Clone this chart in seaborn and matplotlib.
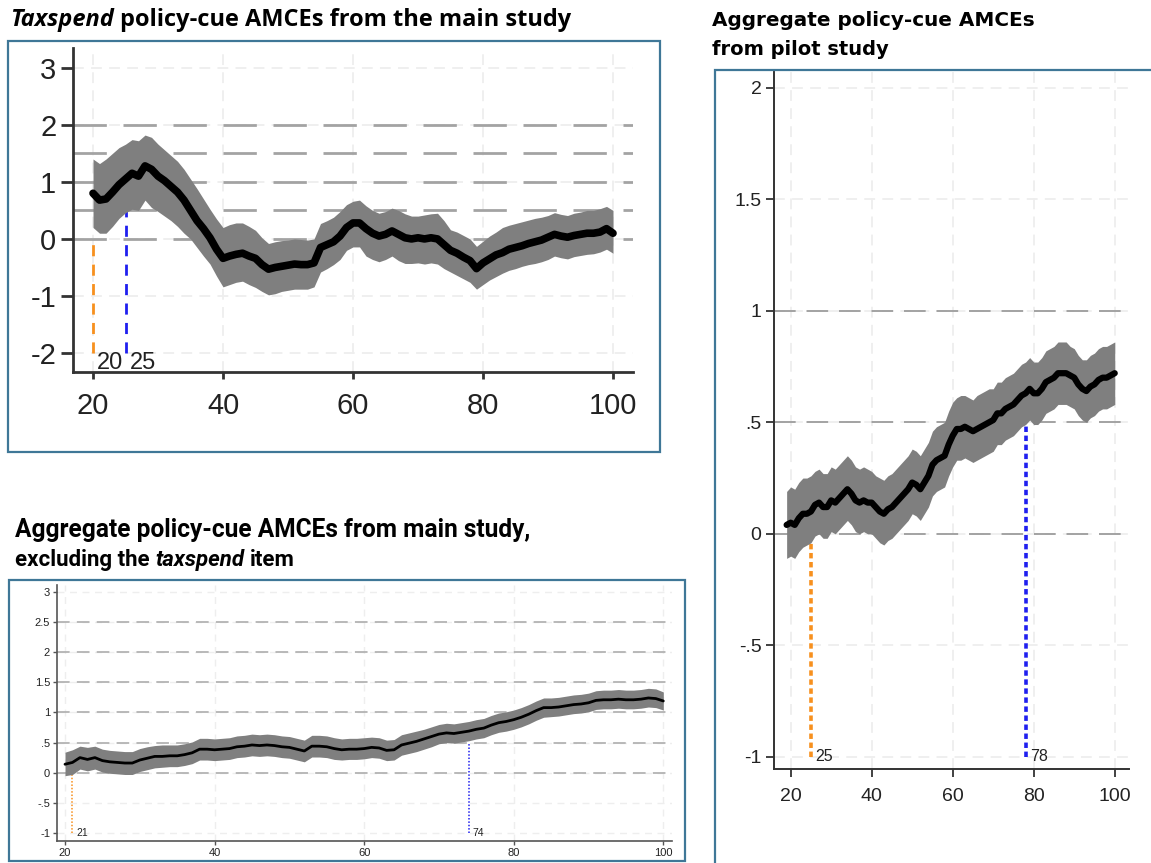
import matplotlib
matplotlib.use("Agg")
import numpy as np
import pandas as pd
import matplotlib.pyplot as plt
import seaborn as sns
from matplotlib.patches import Rectangle
from matplotlib import font_manager

# ---------------- data ----------------
# Panel A: Taxspend policy-cue AMCEs, main study (age 20..100)
A_age = list(range(20, 101))
A_amce = [0.80, 0.68, 0.70, 0.82, 0.95, 1.05, 1.15, 1.10, 1.28, 1.22,
          1.10, 1.02, 0.92, 0.82, 0.68, 0.50, 0.32, 0.18, 0.02, -0.18,
          -0.34, -0.30, -0.27, -0.25, -0.30, -0.34, -0.45, -0.53, -0.50, -0.48,
          -0.46, -0.44, -0.45, -0.45, -0.42, -0.15, -0.10, -0.05, 0.05, 0.20,
          0.28, 0.28, 0.18, 0.10, 0.05, 0.08, 0.14, 0.08, 0.02, 0.00,
          0.02, 0.00, 0.02, 0.00, -0.10, -0.20, -0.25, -0.32, -0.38, -0.52,
          -0.42, -0.35, -0.28, -0.24, -0.18, -0.15, -0.12, -0.08, -0.05, -0.02,
          0.03, 0.08, 0.05, 0.03, 0.06, 0.08, 0.10, 0.10, 0.12, 0.18,
          0.10]
A_hi = [1.40, 1.32, 1.40, 1.50, 1.60, 1.66, 1.74, 1.72, 1.82, 1.78,
        1.66, 1.56, 1.46, 1.36, 1.22, 1.05, 0.88, 0.70, 0.52, 0.35,
        0.20, 0.25, 0.28, 0.28, 0.22, 0.15, 0.02, -0.08, -0.05, -0.03,
        -0.02, 0.00, -0.01, -0.02, 0.00, 0.27, 0.32, 0.38, 0.48, 0.60,
        0.66, 0.68, 0.58, 0.50, 0.45, 0.48, 0.54, 0.50, 0.44, 0.40,
        0.40, 0.42, 0.44, 0.45, 0.32, 0.16, 0.12, 0.06, 0.00, -0.13,
        -0.04, 0.05, 0.12, 0.20, 0.24, 0.27, 0.30, 0.33, 0.36, 0.38,
        0.41, 0.46, 0.43, 0.41, 0.45, 0.47, 0.50, 0.50, 0.53, 0.57,
        0.50]
A_lo = [0.20, 0.10, 0.10, 0.22, 0.36, 0.46, 0.52, 0.50, 0.68, 0.55,
        0.48, 0.40, 0.32, 0.22, 0.10, 0.00, -0.15, -0.30, -0.44, -0.65,
        -0.84, -0.80, -0.76, -0.74, -0.80, -0.85, -0.92, -0.98, -0.96, -0.92,
        -0.90, -0.88, -0.88, -0.88, -0.84, -0.58, -0.52, -0.45, -0.36, -0.20,
        -0.14, -0.14, -0.30, -0.36, -0.40, -0.36, -0.30, -0.38, -0.43, -0.43,
        -0.42, -0.44, -0.42, -0.44, -0.52, -0.58, -0.64, -0.70, -0.76, -0.88,
        -0.80, -0.72, -0.66, -0.60, -0.55, -0.52, -0.48, -0.45, -0.43, -0.40,
        -0.36, -0.30, -0.33, -0.35, -0.31, -0.29, -0.27, -0.26, -0.23, -0.18,
        -0.25]
A_cut_age = [20, 25]
A_cut_top = [0.0, 0.5]
A_cut_label = ["20", "25"]
A_xticks = [20, 40, 60, 80, 100]
A_yticks = [3, 2, 1, 0, -1, -2]
A_yticklabels = ["3", "2", "1", "0", "-1", "-2"]
A_ref_y = [2, 1.5, 1, 0.5, 0]

# Panel B: aggregate AMCEs, main study excluding taxspend (age 20..100)
B_age = list(range(20, 101))
B_amce = [0.14, 0.17, 0.25, 0.22, 0.25, 0.20, 0.18, 0.17, 0.16, 0.16,
          0.21, 0.24, 0.27, 0.27, 0.28, 0.28, 0.30, 0.33, 0.39, 0.39,
          0.38, 0.39, 0.40, 0.43, 0.44, 0.46, 0.45, 0.46, 0.45, 0.43,
          0.42, 0.39, 0.36, 0.44, 0.44, 0.43, 0.40, 0.38, 0.39, 0.39,
          0.40, 0.42, 0.41, 0.37, 0.38, 0.46, 0.49, 0.52, 0.56, 0.60,
          0.64, 0.66, 0.65, 0.67, 0.69, 0.72, 0.74, 0.79, 0.83, 0.85,
          0.88, 0.92, 0.97, 1.03, 1.08, 1.08, 1.09, 1.11, 1.13, 1.14,
          1.16, 1.20, 1.21, 1.21, 1.22, 1.21, 1.21, 1.22, 1.24, 1.23,
          1.19]
B_hi = [0.34, 0.38, 0.44, 0.42, 0.44, 0.39, 0.37, 0.36, 0.35, 0.35,
        0.40, 0.43, 0.45, 0.46, 0.46, 0.46, 0.48, 0.51, 0.57, 0.57,
        0.56, 0.57, 0.58, 0.61, 0.62, 0.64, 0.63, 0.64, 0.63, 0.61,
        0.60, 0.57, 0.54, 0.62, 0.62, 0.61, 0.58, 0.56, 0.57, 0.57,
        0.58, 0.59, 0.58, 0.54, 0.55, 0.63, 0.66, 0.69, 0.72, 0.76,
        0.80, 0.82, 0.81, 0.83, 0.85, 0.88, 0.90, 0.95, 0.99, 1.01,
        1.04, 1.08, 1.13, 1.19, 1.24, 1.24, 1.25, 1.27, 1.29, 1.30,
        1.32, 1.36, 1.37, 1.37, 1.38, 1.37, 1.37, 1.38, 1.40, 1.39,
        1.34]
B_lo = [-0.05, -0.03, 0.06, 0.03, 0.06, 0.01, -0.01, -0.02, -0.03, -0.03,
        0.02, 0.05, 0.08, 0.09, 0.10, 0.10, 0.12, 0.15, 0.21, 0.21,
        0.20, 0.21, 0.22, 0.25, 0.26, 0.28, 0.27, 0.28, 0.27, 0.25,
        0.24, 0.21, 0.18, 0.26, 0.26, 0.25, 0.22, 0.21, 0.22, 0.22,
        0.23, 0.25, 0.24, 0.20, 0.21, 0.29, 0.32, 0.35, 0.39, 0.43,
        0.48, 0.50, 0.49, 0.51, 0.53, 0.56, 0.58, 0.63, 0.67, 0.69,
        0.72, 0.76, 0.81, 0.87, 0.92, 0.93, 0.94, 0.96, 0.98, 0.99,
        1.01, 1.05, 1.06, 1.06, 1.07, 1.06, 1.06, 1.07, 1.09, 1.08,
        1.04]
B_cut_age = [21, 74]
B_cut_top = [0.0, 0.5]
B_cut_label = ["21", "74"]
B_xticks = [20, 40, 60, 80, 100]
B_yticks = [3, 2.5, 2, 1.5, 1, 0.5, 0, -0.5, -1]
B_yticklabels = ["3", "2.5", "2", "1.5", "1", ".5", "0", "-.5", "-1"]
B_ref_y = [2.5, 2, 1.5, 1, 0.5, 0]

# Panel C: aggregate AMCEs, pilot study (age 19..100)
C_age = list(range(19, 101))
C_amce = [0.04, 0.05, 0.04, 0.07, 0.09, 0.09, 0.10, 0.13, 0.14, 0.12,
          0.12, 0.15, 0.14, 0.16, 0.18, 0.20, 0.18, 0.15, 0.14, 0.15,
          0.14, 0.14, 0.12, 0.10, 0.09, 0.11, 0.12, 0.14, 0.16, 0.18,
          0.20, 0.23, 0.22, 0.20, 0.23, 0.26, 0.31, 0.33, 0.34, 0.35,
          0.40, 0.44, 0.47, 0.47, 0.48, 0.47, 0.46, 0.47, 0.48, 0.49,
          0.50, 0.51, 0.54, 0.54, 0.56, 0.57, 0.58, 0.60, 0.62, 0.63,
          0.65, 0.63, 0.63, 0.65, 0.68, 0.69, 0.70, 0.72, 0.72, 0.72,
          0.71, 0.70, 0.67, 0.65, 0.64, 0.66, 0.67, 0.69, 0.70, 0.70,
          0.71, 0.72]
C_hi = [0.19, 0.21, 0.20, 0.23, 0.25, 0.25, 0.26, 0.28, 0.29, 0.27,
        0.27, 0.30, 0.29, 0.31, 0.33, 0.35, 0.33, 0.30, 0.29, 0.30,
        0.29, 0.28, 0.26, 0.25, 0.24, 0.26, 0.27, 0.29, 0.31, 0.33,
        0.35, 0.38, 0.37, 0.35, 0.38, 0.41, 0.46, 0.48, 0.49, 0.50,
        0.55, 0.59, 0.61, 0.62, 0.62, 0.61, 0.60, 0.62, 0.63, 0.64,
        0.65, 0.65, 0.68, 0.68, 0.70, 0.71, 0.72, 0.74, 0.76, 0.77,
        0.79, 0.77, 0.77, 0.79, 0.82, 0.83, 0.84, 0.86, 0.86, 0.86,
        0.84, 0.83, 0.80, 0.78, 0.78, 0.80, 0.81, 0.83, 0.84, 0.84,
        0.85, 0.86]
C_lo = [-0.11, -0.10, -0.11, -0.08, -0.06, -0.05, -0.04, -0.01, 0.00, -0.02,
        -0.02, 0.01, 0.00, 0.02, 0.04, 0.06, 0.04, 0.01, 0.00, 0.01,
        0.00, 0.00, -0.02, -0.04, -0.05, -0.03, -0.02, 0.00, 0.02, 0.04,
        0.06, 0.09, 0.08, 0.06, 0.09, 0.12, 0.17, 0.19, 0.20, 0.21,
        0.26, 0.30, 0.33, 0.33, 0.34, 0.33, 0.32, 0.33, 0.34, 0.35,
        0.36, 0.37, 0.40, 0.40, 0.42, 0.43, 0.44, 0.46, 0.48, 0.49,
        0.51, 0.49, 0.49, 0.51, 0.54, 0.55, 0.56, 0.58, 0.58, 0.58,
        0.57, 0.56, 0.53, 0.51, 0.50, 0.52, 0.53, 0.55, 0.56, 0.56,
        0.57, 0.58]
C_cut_age = [25, 78]
C_cut_top = [0.0, 0.5]
C_cut_label = ["25", "78"]
C_xticks = [20, 40, 60, 80, 100]
C_yticks = [2, 1.5, 1, 0.5, 0, -0.5, -1]
C_yticklabels = ["2", "1.5", "1", ".5", "0", "-.5", "-1"]
C_ref_y = [1, 0.5, 0]

TITLE_A = [("Taxspend", True), (" policy-cue AMCEs from the main study", False)]
TITLE_B1 = [("Aggregate policy-cue AMCEs from main study,", False)]
TITLE_B2 = [("excluding the ", False), ("taxspend", True), (" item", False)]
TITLE_C1 = [("Aggregate policy-cue AMCEs", False)]
TITLE_C2 = [("from pilot study", False)]

# ---------------- styling ----------------
sns.set_theme(style="white")
avail = {f.name for f in font_manager.fontManager.ttflist}


def pick(*names):
    for n in names:
        if n in avail:
            return n
    return "DejaVu Sans"


SANS = pick("Liberation Sans", "DejaVu Sans")
NARROW = pick("Liberation Sans Narrow", "Liberation Sans")
T_A = pick("Open Sans", "Noto Sans", "DejaVu Sans")
T_B = pick("Roboto", "Liberation Sans Narrow", "Liberation Sans")
T_C = pick("DejaVu Sans")
plt.rcParams["font.family"] = [SANS, "DejaVu Sans"]

W, H = 1151, 863
fig = plt.figure(figsize=(W / 100, H / 100), dpi=100, facecolor="white")
BOX = "#3f7797"
ORANGE = "#f7901e"
BLUE = "#1f1fef"
BAND = "#7f7f7f"
LIGHT = "#eeeeee"


def box(l, t, r, b):
    fig.patches.append(Rectangle((l / W, 1 - b / H), (r - l) / W, (b - t) / H,
                                 transform=fig.transFigure, fill=False,
                                 edgecolor=BOX, lw=1.6))


def ax_at(l, t, r, b):
    return fig.add_axes([l / W, 1 - b / H, (r - l) / W, (b - t) / H])


renderer = fig.canvas.get_renderer()


def rich(x_px, base_px, parts, family, size, target_w=None):
    def draw(sz):
        objs = []
        x = x_px
        for s, ital in parts:
            st = "italic" if ital else "normal"
            probe1 = fig.text(0, 0, "xx", fontsize=sz, family=family, weight="bold", style=st)
            probe2 = fig.text(0, 0, "x x", fontsize=sz, family=family, weight="bold", style=st)
            sp = probe2.get_window_extent(renderer).width - probe1.get_window_extent(renderer).width
            probe1.remove(); probe2.remove()
            lead = len(s) - len(s.lstrip(" "))
            trail = len(s) - len(s.rstrip(" "))
            x += lead * sp
            t = fig.text(x / W, 1 - base_px / H, s.strip(), fontsize=sz, family=family,
                         weight="bold", style=st, va="baseline", ha="left", color="black")
            x += t.get_window_extent(renderer).width + trail * sp
            objs.append(t)
        return objs, x - x_px
    objs, w = draw(size)
    if target_w:
        for o in objs:
            o.remove()
        objs, w = draw(size * target_w / w)
    return objs


def panel(ax, age, amce, lo, hi, xticks, yticks, ytl, ref_y, cut_age, cut_top, cut_bottom,
          cut_label, xlim, ylim, st):
    ax.set_xlim(xlim)
    ax.set_ylim(ylim)
    ax.set_facecolor("white")
    for yv in yticks:
        ax.axhline(yv, color=LIGHT, lw=st["light_lw"], ls=(0, st["light_dash"]), zorder=0.5)
    for xv in xticks:
        ax.axvline(xv, color=LIGHT, lw=st["light_lw"], ls=(0, st["light_dash"]), zorder=0.5)
    for yv in ref_y:
        ax.axhline(yv, color=st["ref_color"], lw=st["ref_lw"], ls=(0, st["ref_dash"]), zorder=0.8)
    for xa, yt, col in zip(cut_age, cut_top, [ORANGE, BLUE]):
        ax.vlines(xa, cut_bottom, yt, colors=col, lw=st["cut_lw"],
                  linestyles=[(0, st["cut_dash"])], zorder=1)
    for xa, lab in zip(cut_age, cut_label):
        ax.text(xa + st["lab_dx"], cut_bottom + st["lab_dy"], lab, fontsize=st["lab_fs"],
                family=st["tick_font"], ha="left", va=st["lab_va"], color="#222222")
    ax.fill_between(age, lo, hi, color=BAND, lw=0, zorder=2)
    df = pd.DataFrame({"age": age, "amce": amce})
    sns.lineplot(data=df, x="age", y="amce", ax=ax, color="black", lw=st["line_lw"],
                 errorbar=None, zorder=3, solid_capstyle="round", solid_joinstyle="round")
    ax.set_xticks(xticks)
    ax.set_xticklabels([str(v) for v in xticks])
    ax.set_yticks(yticks)
    ax.set_yticklabels(ytl)
    ax.set_xlabel("")
    ax.set_ylabel("")
    for s in ["top", "right"]:
        ax.spines[s].set_visible(False)
    for s in ["left", "bottom"]:
        ax.spines[s].set_color(st["spine_color"])
        ax.spines[s].set_linewidth(st["spine_lw"])
    ax.tick_params(axis="y", direction="out", length=st["ytick_len"], width=st["tick_w"],
                   colors=st["spine_color"], labelcolor="#222222", labelsize=st["tick_fs"],
                   pad=st["ypad"], left=True)
    ax.tick_params(axis="x", direction="out", length=st["xtick_len"], width=st["tick_w"],
                   colors=st["spine_color"], labelcolor="#222222", labelsize=st["tick_fs"],
                   pad=st["xpad"], bottom=True)
    for lab in ax.get_xticklabels() + ax.get_yticklabels():
        lab.set_family(st["tick_font"])
    ax.grid(False)


# ---------------- panel A ----------------
box(8, 41, 660, 452)
axA = ax_at(73, 48, 632.5, 372.5)
panel(axA, A_age, A_amce, A_lo, A_hi, A_xticks, A_yticks, A_yticklabels, A_ref_y,
      A_cut_age, A_cut_top, -2.0, A_cut_label, (16.92, 103.0), (-2.34, 3.345),
      dict(light_lw=1.3, light_dash=(6, 4), ref_color="#a3a3a3", ref_lw=2.0, ref_dash=(12, 6),
           cut_lw=2.0, cut_dash=(4, 3), lab_dx=0.6, lab_dy=0.02, lab_fs=17, lab_va="top",
           line_lw=5.5, spine_color="#333333", spine_lw=2.0, ytick_len=9, xtick_len=5,
           tick_w=2.0, tick_fs=21, ypad=3, xpad=9, tick_font=NARROW))

# ---------------- panel B ----------------
box(9, 580, 685, 861)
axB = ax_at(57, 585, 671.7, 841)
panel(axB, B_age, B_amce, B_lo, B_hi, B_xticks, B_yticks, B_yticklabels, B_ref_y,
      B_cut_age, B_cut_top, -1.0, B_cut_label, (18.93, 101.12), (-1.134, 3.115),
      dict(light_lw=1.0, light_dash=(5, 4), ref_color="#b3b3b3", ref_lw=1.3, ref_dash=(7, 4),
           cut_lw=1.1, cut_dash=(1, 1.2), lab_dx=0.5, lab_dy=0.0, lab_fs=7.5, lab_va="center",
           line_lw=2.0, spine_color="#555555", spine_lw=1.2, ytick_len=3, xtick_len=3,
           tick_w=1.0, tick_fs=8, ypad=2, xpad=2, tick_font=NARROW))

# ---------------- panel C ----------------
box(715, 70, 1160, 875)
axC = ax_at(774, 72, 1128.5, 769)
panel(axC, C_age, C_amce, C_lo, C_hi, C_xticks, C_yticks, C_yticklabels, C_ref_y,
      C_cut_age, C_cut_top, -1.0, C_cut_label, (15.88, 103.4), (-1.054, 2.07),
      dict(light_lw=1.3, light_dash=(6, 4), ref_color="#9c9c9c", ref_lw=1.3, ref_dash=(12, 6),
           cut_lw=2.6, cut_dash=(1.5, 1.0), lab_dx=1.0, lab_dy=0.0, lab_fs=11.5, lab_va="center",
           line_lw=4.5, spine_color="#333333", spine_lw=1.4, ytick_len=6, xtick_len=6,
           tick_w=1.3, tick_fs=14, ypad=3, xpad=8, tick_font=SANS))

# ---------------- titles ----------------
rich(10, 26, TITLE_A, T_A, 15, target_w=563)
rich(15, 537, TITLE_B1, T_B, 16, target_w=518)
rich(15, 566, TITLE_B2, T_B, 16)
rich(712, 26, TITLE_C1, T_C, 14, target_w=323)
rich(712, 55, TITLE_C2, T_C, 14)

fig.savefig("out.png", dpi=100, facecolor="white")
